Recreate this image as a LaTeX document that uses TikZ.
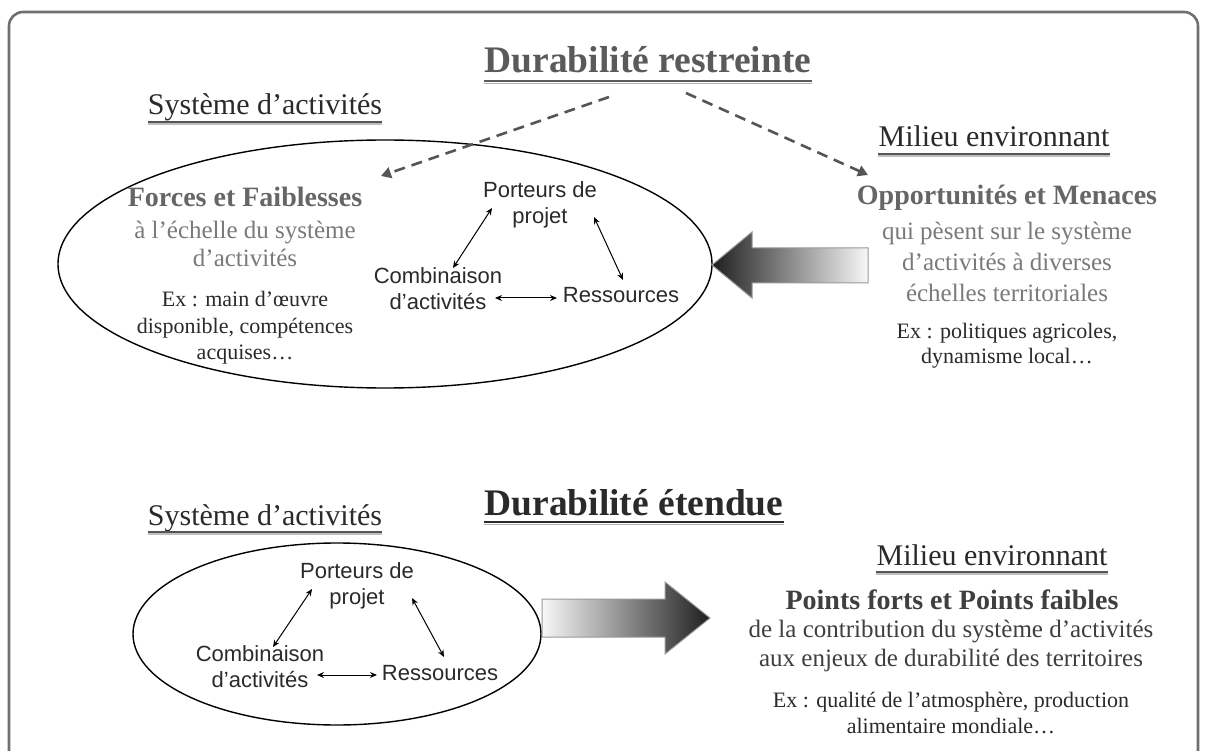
\documentclass[tikz,border=0pt]{standalone}
\usepackage{fontspec}
\setmainfont{Liberation Serif}
\newfontfamily\arialf{Liberation Sans}
\usetikzlibrary{arrows.meta}
\definecolor{framec}{HTML}{707070}
\definecolor{tgray}{HTML}{5A5A5A}
\definecolor{dk}{HTML}{2A2A2A}
\definecolor{midg}{HTML}{666666}
\definecolor{lightg}{HTML}{7A7A7A}
\definecolor{dashc}{HTML}{555555}
\tikzset{
  txt/.style={inner sep=0pt, align=center},
  title/.style={txt, font=\fontsize{37.5}{40}\selectfont\bfseries, anchor=base},
  head/.style={txt, font=\fontsize{30}{34}\selectfont, text=dk, anchor=base},
  lab/.style={txt, font=\arialf\fontsize{22}{26}\selectfont, text=dk},
  strong/.style={txt, font=\fontsize{28}{32}\selectfont\bfseries, text=midg},
  sub/.style={txt, text=lightg},
  ex/.style={txt, text=dk},
  ellip/.style={draw=black, line width=1.4pt},
  small/.style={draw=black, line width=1pt, {Stealth[length=7pt,width=6pt]}-{Stealth[length=7pt,width=6pt]}},
  dasharrow/.style={draw=dashc, line width=2.6pt, dash pattern=on 11pt off 7pt, -{Triangle[length=10pt,width=11pt]}},
  ulA/.style={line width=1.6pt, draw=#1},
}
\begin{document}
\begin{tikzpicture}[x=1pt,y=-1pt]
\useasboundingbox (0,0) rectangle (1208,751);
\fill[white] (0,0) rectangle (1208,751);
\begin{scope}
\clip (0,0) rectangle (1208,751);
\draw[draw=framec, line width=2.6pt, rounded corners=14pt] (9,12) rectangle (1198,800);
\end{scope}

% ---------- top section ----------
\node[title, text=tgray] (t1) at (648,73) {Durabilité restreinte};
\draw[ulA=tgray] ([yshift=-8pt]t1.base west) -- ([yshift=-8pt]t1.base east);
\draw[ulA=gray!60] ([yshift=-10.5pt]t1.base west) -- ([yshift=-10.5pt]t1.base east);

\node[head] (sa1) at (265,115) {Système d’activités};
\draw[ulA=dashc, line width=1.4pt] ([yshift=-7pt]sa1.base west) -- ([yshift=-7pt]sa1.base east);
\draw[ulA=gray!50, line width=1.2pt] ([yshift=-9pt]sa1.base west) -- ([yshift=-9pt]sa1.base east);

\node[head] (me1) at (994,147) {Milieu environnant};
\draw[ulA=dashc, line width=1.4pt] ([yshift=-7pt]me1.base west) -- ([yshift=-7pt]me1.base east);
\draw[ulA=gray!50, line width=1.2pt] ([yshift=-9pt]me1.base west) -- ([yshift=-9pt]me1.base east);

\draw[ellip] (385,264) ellipse [x radius=327, y radius=124];

\coordinate (d1s) at (609,97);
\coordinate (d1e) at (381,176);
\coordinate (d2s) at (686,93);
\coordinate (d2e) at (868,175);
\draw[dasharrow] (d1s) -- (d1e);
\draw[dasharrow] (d2s) -- (d2e);

\node[strong] (ff) at (245,197) {Forces et Faiblesses};
\node[sub, font=\fontsize{25}{28}\selectfont] (ffs) at (245,244) {à l’échelle du système\\d’activités};
\node[ex, font=\fontsize{22}{26.5}\selectfont] (ffe) at (245,328) {Ex : main d’œuvre\\disponible, compétences\\acquises…};

\node[lab] (pp1) at (540,205) {Porteurs de\\projet};
\node[lab] (ca1) at (438,289) {Combinaison\\d’activités};
\node[lab] (rs1) at (621,295) {Ressources};
\coordinate (a1a) at (453,268);
\coordinate (a1b) at (492,208);
\coordinate (a2a) at (594,217);
\coordinate (a2b) at (623,280);
\coordinate (a3a) at (495,298);
\coordinate (a3b) at (557,298);
\draw[small] (a1a) -- (a1b);
\draw[small] (a2a) -- (a2b);
\draw[small] (a3a) -- (a3b);

% big left arrow
\shade[left color=black!88, right color=black!3, draw=gray!80, line width=1pt]
  (712,265) -- (752,232) -- (752,248) -- (868,248) -- (868,283) -- (752,283) -- (752,298) -- cycle;

\node[strong] (om) at (1007,198) {Opportunités et Menaces};
\node[sub, font=\fontsize{25}{31}\selectfont] (oms) at (1007,262) {qui pèsent sur le système\\d’activités à diverses\\échelles territoriales};
\node[ex, font=\fontsize{22}{25}\selectfont] (ome) at (1007,346) {Ex : politiques agricoles,\\dynamisme local…};

% ---------- bottom section ----------
\node[title, text=dk] (t2) at (634,515) {Durabilité étendue};
\draw[ulA=dk] ([yshift=-7pt]t2.base west) -- ([yshift=-7pt]t2.base east);
\draw[ulA=gray!60] ([yshift=-9.5pt]t2.base west) -- ([yshift=-9.5pt]t2.base east);

\node[head] (sa2) at (265,525) {Système d’activités};
\draw[ulA=dashc, line width=1.4pt] ([yshift=-7pt]sa2.base west) -- ([yshift=-7pt]sa2.base east);
\draw[ulA=gray!50, line width=1.2pt] ([yshift=-9pt]sa2.base west) -- ([yshift=-9pt]sa2.base east);

\node[head] (me2) at (992,565) {Milieu environnant};
\draw[ulA=dashc, line width=1.4pt] ([yshift=-7pt]me2.base west) -- ([yshift=-7pt]me2.base east);
\draw[ulA=gray!50, line width=1.2pt] ([yshift=-9pt]me2.base west) -- ([yshift=-9pt]me2.base east);

\draw[ellip] (337,634) ellipse [x radius=204, y radius=91];

\node[lab] (pp2) at (357,586) {Porteurs de\\projet};
\node[lab] (ca2) at (260,667) {Combinaison\\d’activités};
\node[lab] (rs2) at (440,673) {Ressources};
\coordinate (b1a) at (273,647);
\coordinate (b1b) at (312,589);
\coordinate (b2a) at (412,598);
\coordinate (b2b) at (444,657);
\coordinate (b3a) at (317,675);
\coordinate (b3b) at (377,675);
\draw[small] (b1a) -- (b1b);
\draw[small] (b2a) -- (b2b);
\draw[small] (b3a) -- (b3b);

% big right arrow
\shade[left color=black!3, right color=black!88, draw=gray!80, line width=1pt]
  (542,599) -- (665,599) -- (665,582) -- (710,618) -- (665,654) -- (665,637) -- (542,637) -- cycle;

\node[strong, text=dk!90] (pf) at (952,600) {Points forts et Points faibles};
\node[txt, text=dk!90, font=\fontsize{25}{29}\selectfont] (pfs) at (951,646) {de la contribution du système d’activités\\aux enjeux de durabilité des territoires};
\node[ex, font=\fontsize{22}{26}\selectfont] (pfe) at (951,713) {Ex : qualité de l’atmosphère, production\\alimentaire mondiale…};
\end{tikzpicture}
\end{document}
